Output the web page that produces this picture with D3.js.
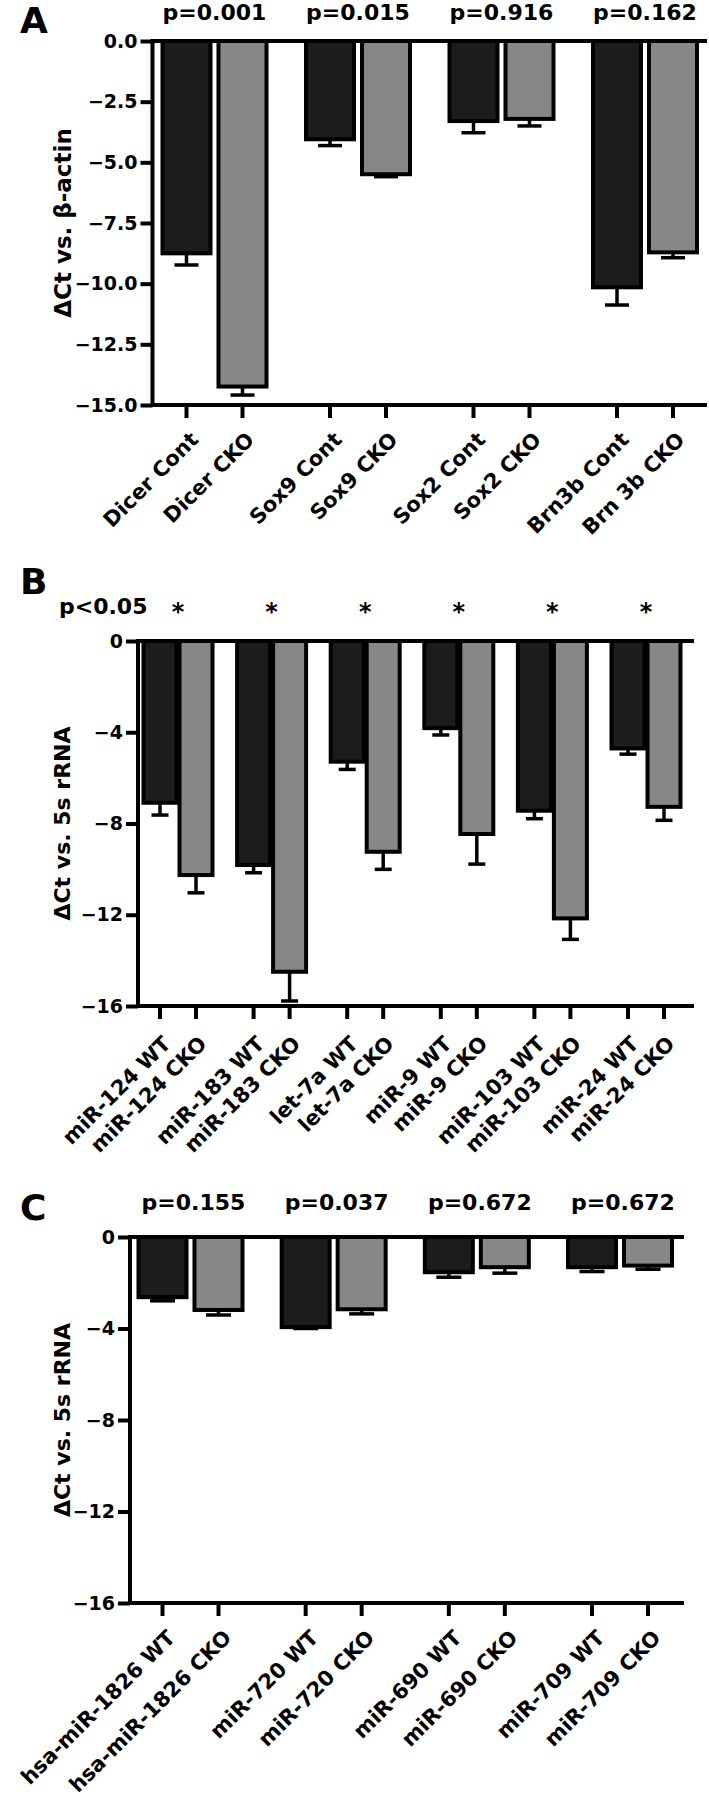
<!DOCTYPE html>
<html><head><meta charset="utf-8">
<script src="https://cdn.jsdelivr.net/npm/d3@7"></script>
<style>
body{margin:0;background:#fff}
svg{display:block}
text{font-family:"DejaVu Sans",sans-serif;font-weight:bold;fill:#000}
</style>
</head><body>
<svg id="c" width="709" height="1800"></svg>
<script>
// ---------- Panel A ----------
const groupsA = ["Dicer","Sox9","Sox2","Brn3b"];
const labelsA = ["Dicer Cont","Dicer CKO","Sox9 Cont","Sox9 CKO","Sox2 Cont","Sox2 CKO","Brn3b Cont","Brn 3b CKO"];
const valuesA = [-8.75,-14.24,-4.05,-5.49,-3.30,-3.21,-10.15,-8.71];
const errorsA = [0.48,0.35,0.26,0.10,0.48,0.29,0.73,0.22];
const pLabelsA = ["p=0.001","p=0.015","p=0.916","p=0.162"];
const ticksA = [0,-2.5,-5,-7.5,-10,-12.5,-15];
const titleA = "\u0394Ct vs. \u03b2-actin";

// ---------- Panel B ----------
const groupsB = ["miR-124","miR-183","let-7a","miR-9","miR-103","miR-24"];
const labelsB = ["miR-124 WT","miR-124 CKO","miR-183 WT","miR-183 CKO","let-7a WT","let-7a CKO","miR-9 WT","miR-9 CKO","miR-103 WT","miR-103 CKO","miR-24 WT","miR-24 CKO"];
const valuesB = [-7.09,-10.26,-9.82,-14.50,-5.29,-9.24,-3.82,-8.46,-7.44,-12.16,-4.71,-7.27];
const errorsB = [0.54,0.78,0.34,1.28,0.34,0.77,0.30,1.32,0.35,0.92,0.25,0.59];
const starsB = ["*","*","*","*","*","*"];
const ticksB = [0,-4,-8,-12,-16];
const titleB = "\u0394Ct vs. 5s rRNA";

// ---------- Panel C ----------
const groupsC = ["hsa-miR-1826","miR-720","miR-690","miR-709"];
const labelsC = ["hsa-miR-1826 WT","hsa-miR-1826 CKO","miR-720 WT","miR-720 CKO","miR-690 WT","miR-690 CKO","miR-709 WT","miR-709 CKO"];
const valuesC = [-2.63,-3.19,-3.94,-3.16,-1.54,-1.32,-1.32,-1.25];
const errorsC = [0.16,0.22,0.06,0.20,0.22,0.26,0.19,0.16];
const pLabelsC = ["p=0.155","p=0.037","p=0.672","p=0.672"];
const ticksC = [0,-4,-8,-12,-16];
const titleC = "\u0394Ct vs. 5s rRNA";

const svg = d3.select("#c");
const DARK = "#1c1c1c", GREY = "#878787";

function panel(o){
  const g = svg.append("g");
  const y = d3.scaleLinear().domain([0, o.min]).range([o.top, o.bottom]);
  const gx = d3.scalePoint().domain(o.groups).range(o.groupRange);
  const mx = d3.scalePoint().domain([0,1]).range([-o.off, o.off]);
  const data = o.labels.map((l,i)=>({label:l, v:o.values[i], e:o.errors[i],
      x: gx(o.groups[Math.floor(i/2)]) + mx(i%2), m:i%2}));

  // error bars (downwards)
  g.selectAll("line.err").data(data).join("line").attr("class","err")
    .attr("x1",d=>d.x).attr("x2",d=>d.x)
    .attr("y1",d=>y(d.v)).attr("y2",d=>y(d.v-d.e))
    .attr("stroke","#000").attr("stroke-width",3.5);
  g.selectAll("line.cap").data(data).join("line").attr("class","cap")
    .attr("x1",d=>d.x-o.cap/2).attr("x2",d=>d.x+o.cap/2)
    .attr("y1",d=>y(d.v-d.e)).attr("y2",d=>y(d.v-d.e))
    .attr("stroke","#000").attr("stroke-width",3.5);

  // bars
  g.selectAll("rect.bar").data(data).join("rect").attr("class","bar")
    .attr("x",d=>d.x-o.bw/2).attr("y",y(0))
    .attr("width",o.bw).attr("height",d=>y(d.v)-y(0))
    .attr("fill",d=>d.m?GREY:DARK)
    .attr("stroke","#000").attr("stroke-width",4);

  // axis frame lines
  g.append("line").attr("x1",o.axisX).attr("x2",o.axisX)
    .attr("y1",y(0)-2).attr("y2",y(o.min)+2)
    .attr("stroke","#000").attr("stroke-width",4);
  [0,o.min].forEach(v=>{
    g.append("line").attr("x1",o.axisX).attr("x2",o.right)
      .attr("y1",y(v)).attr("y2",y(v))
      .attr("stroke","#000").attr("stroke-width",4);
  });

  // y axis ticks
  const ax = d3.axisLeft(y).tickValues(o.ticks).tickFormat(o.fmt).tickSize(o.tick).tickPadding(3);
  const ag = g.append("g").attr("transform",`translate(${o.axisX},0)`).call(ax);
  ag.select(".domain").remove();
  ag.selectAll(".tick line").attr("stroke","#000").attr("stroke-width",4);
  ag.selectAll(".tick text").style("font-size","19px").attr("fill","#000");

  // x ticks
  g.selectAll("line.xt").data(data).join("line").attr("class","xt")
    .attr("x1",d=>d.x).attr("x2",d=>d.x)
    .attr("y1",y(o.min)).attr("y2",y(o.min)+13)
    .attr("stroke","#000").attr("stroke-width",4);
  // x labels
  g.selectAll("text.xl").data(data).join("text").attr("class","xl")
    .attr("transform",d=>`translate(${d.x+o.ldx},${y(o.min)+o.ldy}) rotate(-45)`)
    .attr("text-anchor","end").style("font-size","21px")
    .text(d=>d.label);

  // y title
  g.append("text")
    .attr("transform",`translate(${o.titleX},${(y(0)+y(o.min))/2}) rotate(-90)`)
    .attr("text-anchor","middle").attr("dominant-baseline","central")
    .style("font-size",o.titleSize+"px").text(o.title);

  // top annotations
  g.selectAll("text.ann").data(o.ann).join("text").attr("class","ann")
    .attr("x",(d,i)=>gx(o.groups[i])+o.annDx).attr("y",o.annY)
    .attr("text-anchor","middle").style("font-size",o.annSize+"px")
    .text(d=>d);

  // panel letter
  g.append("text").attr("x",o.letterX).attr("y",o.letterY)
    .style("font-size","36px").text(o.letter);
  return {g, y, gx};
}

panel({letter:"A", letterX:20, letterY:33,
  groups:groupsA, labels:labelsA, values:valuesA, errors:errorsA,
  min:-15, top:41, bottom:405, groupRange:[214.5,645], off:28, bw:48, cap:24,
  axisX:152.5, right:707, ticks:ticksA, fmt:d3.format(".1f"), tick:12,
  ldx:13, ldy:36, titleX:63, title:titleA, titleSize:23,
  ann:pLabelsA, annDx:0, annY:20, annSize:22});

const pb = panel({letter:"B", letterX:20, letterY:594,
  groups:groupsB, labels:labelsB, values:valuesB, errors:errorsB,
  min:-16, top:641, bottom:1006, groupRange:[178,646], off:18, bw:33, cap:17,
  axisX:138, right:694, ticks:ticksB, fmt:d3.format("d"), tick:12,
  ldx:12, ldy:39, titleX:62, title:titleB, titleSize:22,
  ann:starsB, annDx:0, annY:620, annSize:24});
pb.g.append("text").attr("x",59).attr("y",614).style("font-size","22px").text("p<0.05");

panel({letter:"C", letterX:20, letterY:1220,
  groups:groupsC, labels:labelsC, values:valuesC, errors:errorsC,
  min:-16, top:1237, bottom:1603, groupRange:[190.5,620], off:28, bw:48, cap:25,
  axisX:130, right:684, ticks:ticksC, fmt:d3.format("d"), tick:12,
  ldx:14, ldy:36, titleX:62, title:titleC, titleSize:22,
  ann:pLabelsC, annDx:3, annY:1210, annSize:22});
</script>
</body></html>
